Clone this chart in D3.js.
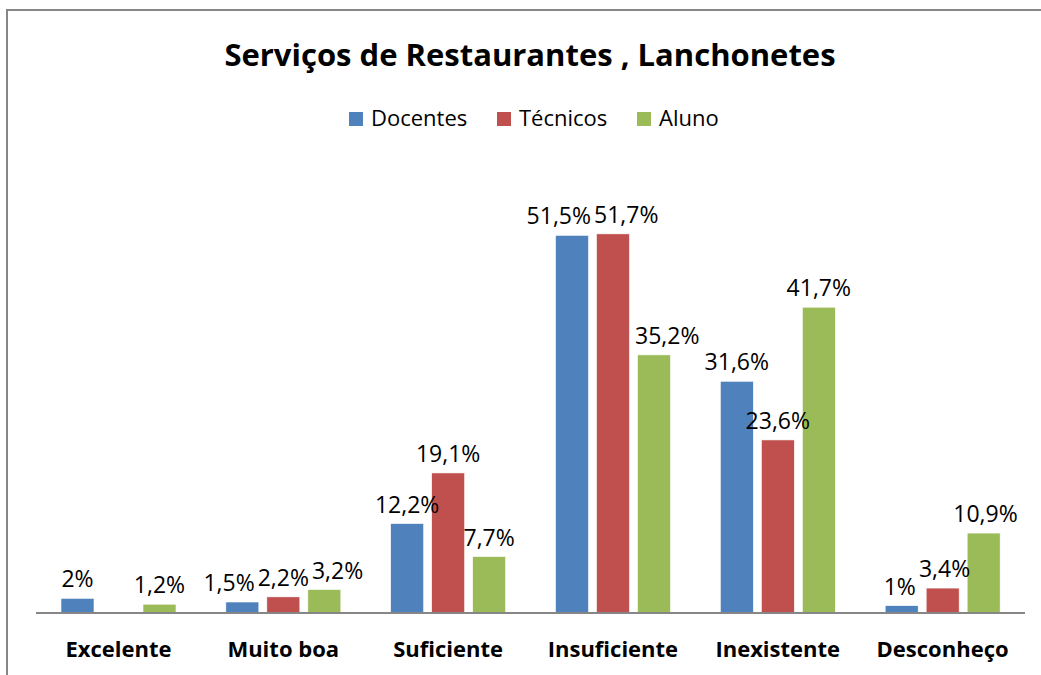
<!DOCTYPE html>
<html lang="pt">
<head>
<meta charset="UTF-8">
<title>Serviços de Restaurantes , Lanchonetes</title>
<script src="https://d3js.org/d3.v7.min.js"></script>
<style>
  body { margin: 0; background: #fff; }
  text { font-family: "Open Sans", "Noto Sans", sans-serif; fill: #000; }
</style>
</head>
<body>
<div id="chart"></div>
<script>
// data
var categories = ["Excelente", "Muito boa", "Suficiente", "Insuficiente", "Inexistente", "Desconheço"];
var seriesNames = ["Docentes", "Técnicos", "Aluno"];
var docentes = [2, 1.5, 12.2, 51.5, 31.6, 1];
var tecnicos = [null, 2.2, 19.1, 51.7, 23.6, 3.4];
var alunos = [1.2, 3.2, 7.7, 35.2, 41.7, 10.9];
var colors = ["#4F81BD", "#C0504D", "#9BBB59"];

var width = 1041, height = 675;
var base = 613;

var svg = d3.select("#chart").append("svg")
  .attr("width", width)
  .attr("height", height);

// outer frame (runs off the right and bottom)
svg.append("rect")
  .attr("x", 7).attr("y", 10)
  .attr("width", 1060).attr("height", 700)
  .attr("fill", "none")
  .attr("stroke", "#868686")
  .attr("stroke-width", 2);

svg.append("text")
  .attr("x", 530).attr("y", 66)
  .attr("text-anchor", "middle")
  .style("font-size", "31px")
  .style("font-weight", "bold")
  .text("Serviços de Restaurantes , Lanchonetes");

// legend
var legendX = [349, 497, 637];
var legend = svg.selectAll(".legend")
  .data(seriesNames)
  .enter().append("g")
  .attr("class", "legend")
  .attr("transform", function(d, i) { return "translate(" + legendX[i] + ",112)"; });
legend.append("rect")
  .attr("width", 14).attr("height", 14)
  .attr("fill", function(d, i) { return colors[i]; });
legend.append("text")
  .attr("x", 22).attr("y", 14)
  .style("font-size", "22px")
  .text(function(d) { return d; });

var x = d3.scaleBand()
  .domain(categories)
  .range([36, 1025]);

var xs = d3.scaleBand()
  .domain(seriesNames)
  .range([25, 140])
  .paddingInner(8 / 41);

var y = d3.scaleLinear()
  .domain([0, 60])
  .range([base, base - 440]);

var rows = [];
var allSeries = [docentes, tecnicos, alunos];
categories.forEach(function(c, ci) {
  seriesNames.forEach(function(s, si) {
    var v = allSeries[si][ci];
    if (v != null) rows.push({ cat: c, ser: s, si: si, value: v });
  });
});

svg.selectAll(".bar")
  .data(rows)
  .enter().append("rect")
  .attr("class", "bar")
  .attr("x", function(d) { return x(d.cat) + xs(d.ser); })
  .attr("y", function(d) { return y(d.value); })
  .attr("width", xs.bandwidth())
  .attr("height", function(d) { return base - y(d.value); })
  .attr("fill", function(d) { return colors[d.si]; })
  .attr("stroke", "#fff")
  .attr("stroke-width", 0.6);

// baseline
svg.append("line")
  .attr("x1", 36).attr("x2", 1025)
  .attr("y1", base).attr("y2", base)
  .attr("stroke", "#868686")
  .attr("stroke-width", 2);

// category labels
svg.selectAll(".cat")
  .data(categories)
  .enter().append("text")
  .attr("class", "cat")
  .attr("x", function(d) { return x(d) + x.bandwidth() / 2; })
  .attr("y", 657)
  .attr("text-anchor", "middle")
  .style("font-size", "22px")
  .style("font-weight", "bold")
  .text(function(d) { return d; });

function fmt(v) { return String(v).replace(".", ",") + "%"; }

var labels = svg.selectAll(".lbl")
  .data(rows)
  .enter().append("text")
  .attr("class", "lbl")
  .attr("x", function(d) { return x(d.cat) + xs(d.ser) + xs.bandwidth() / 2; })
  .attr("y", function(d) { return y(d.value) - 11; })
  .attr("text-anchor", "middle")
  .style("font-size", "23px")
  .text(function(d) { return fmt(d.value); });

// spread labels that would run into each other inside one group
categories.forEach(function(c) {
  var group = labels.filter(function(d) { return d.cat === c; }).nodes();
  var boxes = group.map(function(n) {
    var b = n.getBBox();
    return { node: n, x: b.x, w: b.width, y: b.y, h: b.height, shift: 0 };
  });
  var moved = 0;
  for (var i = 1; i < boxes.length; i++) {
    var a = boxes[i - 1], b = boxes[i];
    var vOverlap = a.y < b.y + b.h && b.y < a.y + a.h;
    var gap = (b.x + b.shift) - (a.x + a.shift + a.w) - 3;
    if (vOverlap && gap < 0) {
      for (var j = i; j < boxes.length; j++) boxes[j].shift -= gap;
      moved -= gap;
    }
  }
  boxes.forEach(function(bx) {
    var cx = +d3.select(bx.node).attr("x");
    d3.select(bx.node).attr("x", cx + bx.shift - moved / 2);
  });
});
</script>
</body>
</html>
